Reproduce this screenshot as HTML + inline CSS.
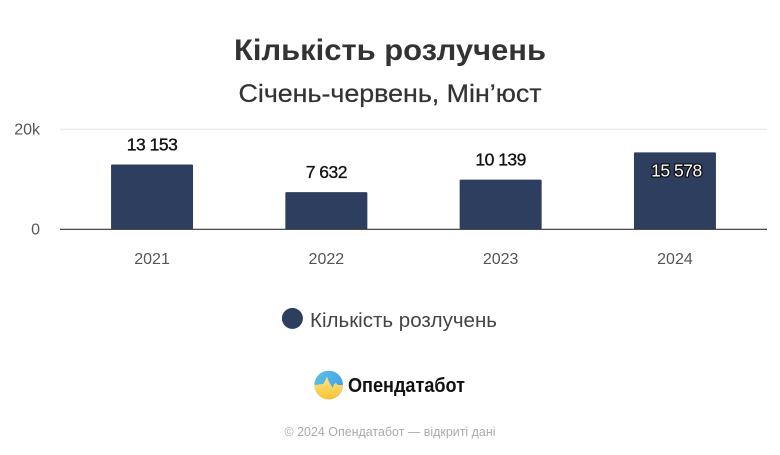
<!DOCTYPE html>
<html lang="uk">
<head>
<meta charset="utf-8">
<title>Кількість розлучень</title>
<style>
html,body{margin:0;padding:0;background:#fff}
svg{display:block;font-family:"Liberation Sans","DejaVu Sans",sans-serif}
</style>
</head>
<body>
<svg id="chart" width="780" height="455" viewBox="0 0 780 455" xmlns="http://www.w3.org/2000/svg">
  <defs>
    <clipPath id="logo-clip"><circle cx="328.7" cy="385" r="14.3"/></clipPath>
    <linearGradient id="logo-blue" x1="0" y1="0" x2="1" y2="0.6">
      <stop offset="0" stop-color="#5cc4dc"/><stop offset="1" stop-color="#3f9ff0"/>
    </linearGradient>
    <linearGradient id="logo-yellow" x1="0" y1="0" x2="0" y2="1">
      <stop offset="0" stop-color="#fbe58a"/><stop offset="1" stop-color="#f7c22e"/>
    </linearGradient>
  </defs>
  <rect width="780" height="455" fill="#ffffff"/>
  <text x="390" y="60" text-anchor="middle" font-size="30" font-weight="700" fill="#333333" textLength="312" lengthAdjust="spacingAndGlyphs">Кількість розлучень</text>
  <text x="390" y="102" text-anchor="middle" font-size="25" fill="#333333" stroke="#333333" stroke-width="0.25" textLength="303" lengthAdjust="spacingAndGlyphs">Січень-червень, Мін’юст</text>

  <g id="grid"></g>
  <g id="bars"></g>
  <g id="axis"></g>
  <g id="labels"></g>

  <circle cx="292.4" cy="318.4" r="10.5" fill="#2d3e5f"/>
  <text x="310" y="327" font-size="20" fill="#444444" textLength="187" lengthAdjust="spacingAndGlyphs">Кількість розлучень</text>

  <g clip-path="url(#logo-clip)">
    <rect x="314" y="370" width="30" height="30" fill="url(#logo-blue)"/>
    <path d="M314 385 L323 384 L325 381 L327 376.5 L329 382 L331 385 L332.7 388 L334 384 L336 383 L338 385 L344 385 L344 400 L314 400 Z" fill="url(#logo-yellow)"/>
  </g>
  <text x="348" y="392" font-size="20" font-weight="700" fill="#111111" textLength="117" lengthAdjust="spacingAndGlyphs">Опендатабот</text>
  <text x="390" y="436" text-anchor="middle" font-size="13" fill="#aaaaaa" textLength="211" lengthAdjust="spacingAndGlyphs">© 2024 Опендатабот — відкриті дані</text>
</svg>
<script>
const categories = ["2021", "2022", "2023", "2024"];
const divorces = [13153, 7632, 10139, 15578];
const valueLabels = ["13 153", "7 632", "10 139", "15 578"];
const yTicks = [0, 20000];
const yTickLabels = ["0", "20k"];

const NS = "http://www.w3.org/2000/svg";
const plot = { left: 60, right: 767, innerLeft: 64.9, innerRight: 762.1, top: 129.3, bottom: 229.3 };
const yMax = 20000;
const insideThreshold = 15000;

function yScale(v) {
  return plot.bottom - (v / yMax) * (plot.bottom - plot.top);
}
function bandWidth() {
  return (plot.innerRight - plot.innerLeft) / categories.length;
}
function xCenter(i) {
  return plot.innerLeft + bandWidth() * (i + 0.5);
}
function make(tag, attrs, parent, text) {
  const el = document.createElementNS(NS, tag);
  for (const k in attrs) el.setAttribute(k, attrs[k]);
  if (text !== undefined) el.textContent = text;
  parent.appendChild(el);
  return el;
}

const gridG = document.getElementById("grid");
const barsG = document.getElementById("bars");
const axisG = document.getElementById("axis");
const labelsG = document.getElementById("labels");

yTicks.forEach(function (t, i) {
  const y = yScale(t);
  if (t !== 0) {
    const line = make("line", { x1: plot.left, x2: plot.right, y1: y, y2: y, stroke: "#e6e6e6", "stroke-width": 1 }, gridG);
    
    
  }
  const label = make("text", { x: 40, y: y + 5.3, "text-anchor": "end", "font-size": 16, fill: "#555555" }, axisG, yTickLabels[i]);
  
  
});

const barW = 84;
divorces.forEach(function (v, i) {
  const cx = xCenter(i);
  const top = yScale(v);
  const bar = make("rect", {
    x: cx - barW / 2, y: top, width: barW, height: plot.bottom - top + 1,
    rx: 2, fill: "#2d3e5f", stroke: "#ffffff", "stroke-width": 2
  }, barsG);
  
  

  const tick = make("text", { x: cx, y: 264, "text-anchor": "middle", "font-size": 16, fill: "#555555" }, axisG, categories[i]);
  
  

  const inside = v > insideThreshold;
  const attrs = inside
    ? { x: cx + 1.5, y: top + 25, fill: "#ffffff", stroke: "#111111", "stroke-width": 2.6, "paint-order": "stroke", "stroke-linejoin": "round" }
    : { x: cx, y: top - 13, fill: "#111111", stroke: "#111111", "stroke-width": 0.35 };
  attrs["text-anchor"] = "middle";
  attrs["font-size"] = 17.5;
  attrs["letter-spacing"] = -0.5;
  const val = make("text", attrs, labelsG, valueLabels[i]);
  
  
});

const baseline = make("line", { x1: plot.left, x2: plot.right, y1: plot.bottom, y2: plot.bottom, stroke: "#333333", "stroke-width": 1.2 }, axisG);


</script>
</body>
</html>
